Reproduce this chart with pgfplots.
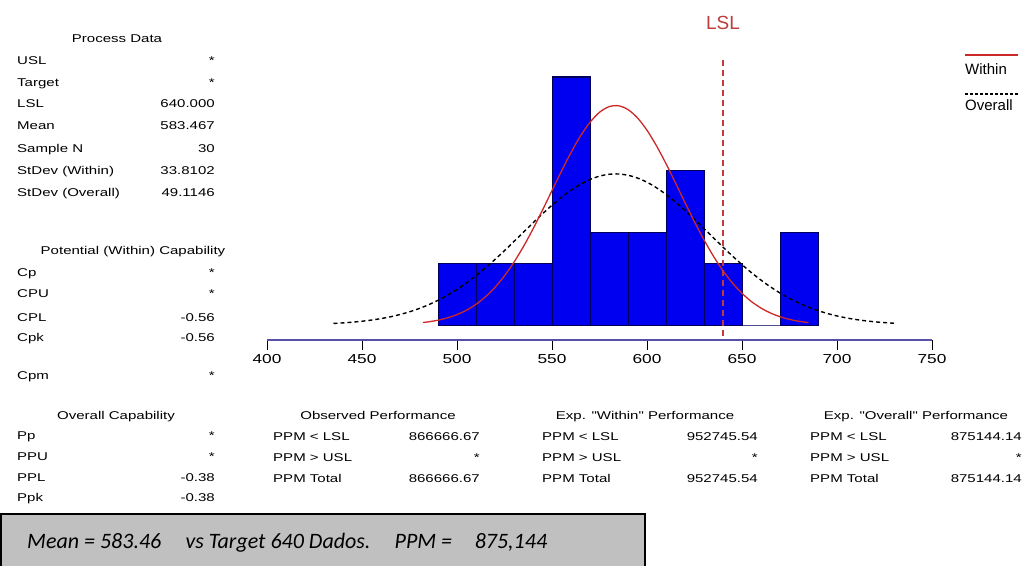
\documentclass[border=0pt]{standalone}
\usepackage{fontspec}
\setmainfont{Liberation Sans}
\newfontfamily\pfam{Liberation Sans}[FakeStretch=1.33]
\newfontfamily\cali{Carlito}
\usepackage{pgfplots}
\pgfplotsset{compat=1.18}
\definecolor{barblue}{RGB}{0,0,240}
\definecolor{baredge}{RGB}{0,0,90}
\definecolor{axiscol}{RGB}{90,80,170}
\definecolor{withinred}{RGB}{205,40,40}
\definecolor{lslred}{RGB}{190,60,60}
\definecolor{boxgray}{RGB}{192,192,192}
\newcommand\pf{\pfam\fontsize{11.3}{13}\selectfont}
\newcommand\tf{\pfam\fontsize{13}{15}\selectfont}
\newcommand\lbl[3]{\node[anchor=base west,font=\pf,inner sep=0pt] at (#1pt,-#2pt) {#3};}
\newcommand\val[3]{\node[anchor=base east,font=\pf,inner sep=0pt] at (#1pt,-#2pt) {#3};}
\newcommand\hdr[3]{\node[anchor=base,font=\pf,inner sep=0pt] at (#1pt,-#2pt) {#3};}
\begin{document}
\begin{tikzpicture}
\path[use as bounding box] (0,0) rectangle (1025pt,-565pt);
\begin{axis}[
  at={(267pt,-340pt)}, anchor=south west,
  width=665pt, height=294pt, scale only axis,
  xmin=400, xmax=750, ymin=-0.484, ymax=9,
  axis x line*=bottom, axis y line=none, ytick=\empty,
  x axis line style={draw=axiscol, line width=1.2pt},
  xtick={400,450,500,550,600,650,700,750},
  tick align=outside, major tick length=10pt,
  xtick style={black, line width=1pt},
  xticklabel style={font=\tf, yshift=-1pt},
  /pgf/number format/assume math mode=true,
  clip=false,
]
\addplot[ybar interval, fill=barblue, draw=baredge, line width=1pt] coordinates {
 (490,2) (510,2) (530,2) (550,8) (570,3) (590,3) (610,5) (630,2) (650,0) (670,3) (690,3)};
% Overall fit (dashed)
\addplot[black, line width=1.4pt, dash pattern=on 4pt off 3pt, smooth] coordinates {
 (435,0.0505) (440,0.0684) (445,0.0916) (450,0.1214) (455,0.1593) (460,0.2069) (465,0.2659)
 (470,0.3381) (475,0.4255) (480,0.5299) (485,0.6532) (490,0.7969) (495,0.9623) (500,1.1500)
 (505,1.3602) (510,1.5922) (515,1.8446) (520,2.1147) (525,2.3996) (530,2.6949) (535,2.9952)
 (540,3.2946) (545,3.5865) (550,3.8641) (555,4.1199) (560,4.3481) (565,4.5410) (570,4.6938)
 (575,4.8017) (580,4.8615) (585,4.8712) (590,4.8307) (595,4.7411) (600,4.6052) (605,4.4270)
 (610,4.2119) (615,3.9659) (620,3.6958) (625,3.4086) (630,3.1112) (635,2.8107) (640,2.5130)
 (645,2.2236) (650,1.9471) (655,1.6876) (660,1.4475) (665,1.2288) (670,1.0323) (675,0.8584)
 (680,0.7064) (685,0.5752) (690,0.4637) (695,0.3700) (700,0.2919) (705,0.2282) (710,0.1765)
 (715,0.1350) (720,0.1023) (725,0.0767) (730,0.0569)};
% Within fit (solid red)
\addplot[withinred, line width=1.3pt, smooth] coordinates {
 (482,0.08) (485,0.1019) (490,0.1550) (495,0.2308) (500,0.3363) (505,0.4792) (510,0.6680)
 (515,0.9112) (520,1.2156) (525,1.5872) (530,2.0275) (535,2.5338) (540,3.0982) (545,3.7064)
 (550,4.3379) (555,4.9664) (560,5.5644) (565,6.0985) (570,6.5399) (575,6.8611) (580,7.0426)
 (585,7.0724) (590,6.9487) (595,6.6796) (600,6.2819) (605,5.7801) (610,5.2033) (615,4.5826)
 (620,3.9488) (625,3.3291) (630,2.7459) (635,2.2157) (640,1.7496) (645,1.3513) (650,1.0212)
 (655,0.7550) (660,0.5462) (665,0.3866) (670,0.2677) (675,0.1813) (680,0.1202) (685,0.0779)};
% LSL reference line
\addplot[lslred, line width=1.3pt, dash pattern=on 6pt off 4pt] coordinates {(640,-0.35) (640,8.55)};
\node[lslred, font=\fontsize{19}{21}\selectfont, anchor=center] at (axis cs:640,9.74) {LSL};
\end{axis}
% legend
\draw[withinred, line width=1.3pt] (965pt,-55pt) -- (1018pt,-55pt);
\node[anchor=base west, inner sep=0pt, font=\fontsize{15}{17}\selectfont] at (965pt,-74pt) {Within};
\draw[black, line width=1.2pt, dash pattern=on 3pt off 2pt] (965pt,-94pt) -- (1018pt,-94pt);
\node[anchor=base west, inner sep=0pt, font=\fontsize{15}{17}\selectfont] at (965pt,-110pt) {Overall};
% Process data
\hdr{117}{42}{Process Data}
\lbl{17}{64}{USL}\val{215}{64}{*}
\lbl{17}{86}{Target}\val{215}{86}{*}
\lbl{17}{107}{LSL}\val{215}{107}{640.000}
\lbl{17}{129}{Mean}\val{215}{129}{583.467}
\lbl{17}{152}{Sample N}\val{215}{152}{30}
\lbl{17}{174}{StDev (Within)}\val{215}{174}{33.8102}
\lbl{17}{196}{StDev (Overall)}\val{215}{196}{49.1146}
% Potential capability
\hdr{133}{254}{Potential (Within) Capability}
\lbl{17}{276}{Cp}\val{215}{276}{*}
\lbl{17}{297}{CPU}\val{215}{297}{*}
\lbl{17}{321}{CPL}\val{215}{321}{-0.56}
\lbl{17}{341}{Cpk}\val{215}{341}{-0.56}
\lbl{17}{379}{Cpm}\val{215}{379}{*}
% Overall capability
\hdr{116}{419}{Overall Capability}
\lbl{17}{439}{Pp}\val{215}{439}{*}
\lbl{17}{460}{PPU}\val{215}{460}{*}
\lbl{17}{481}{PPL}\val{215}{481}{-0.38}
\lbl{17}{501}{Ppk}\val{215}{501}{-0.38}
% Observed performance
\hdr{378}{419}{Observed Performance}
\lbl{273}{440}{PPM < LSL}\val{480}{440}{866666.67}
\lbl{273}{461}{PPM > USL}\val{480}{461}{*}
\lbl{273}{482}{PPM Total}\val{480}{482}{866666.67}
% Exp within
\hdr{645}{419}{Exp. "Within" Performance}
\lbl{542}{440}{PPM < LSL}\val{758}{440}{952745.54}
\lbl{542}{461}{PPM > USL}\val{758}{461}{*}
\lbl{542}{482}{PPM Total}\val{758}{482}{952745.54}
% Exp overall
\hdr{916}{419}{Exp. "Overall" Performance}
\lbl{810}{440}{PPM < LSL}\val{1022}{440}{875144.14}
\lbl{810}{461}{PPM > USL}\val{1022}{461}{*}
\lbl{810}{482}{PPM Total}\val{1022}{482}{875144.14}
% bottom box
\draw[fill=boxgray, draw=black, line width=1.5pt] (1pt,-514pt) rectangle (645pt,-567pt);
\node[anchor=west, inner sep=0pt, font=\cali\itshape\fontsize{22}{25}\selectfont] at (27pt,-543pt)
 {Mean = 583.46\hspace{1.1em}vs Target 640 Dados.\hspace{1.1em}PPM = \hspace{0.8em}875,144};
\end{tikzpicture}
\end{document}
